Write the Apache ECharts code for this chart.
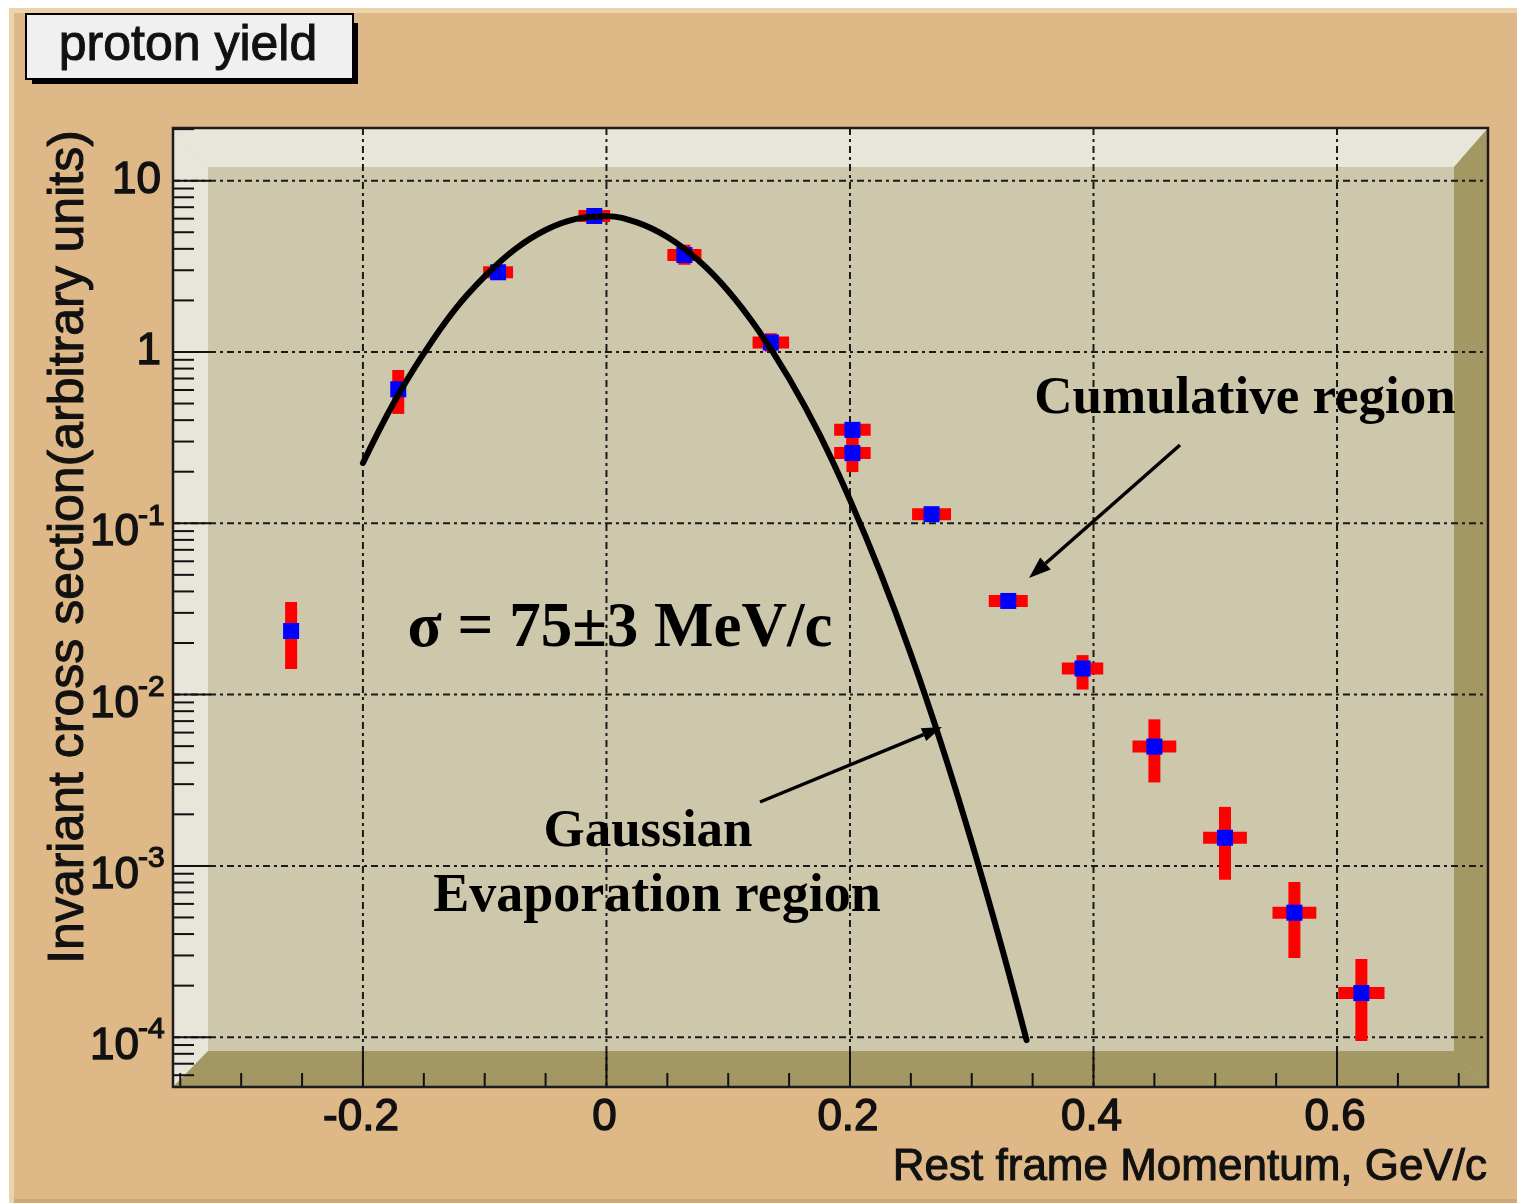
<!DOCTYPE html>
<html>
<head>
<meta charset="utf-8">
<script src="https://cdn.jsdelivr.net/npm/echarts@6/dist/echarts.min.js"></script>
<style>
  html, body { margin: 0; padding: 0; background: #ffffff; }
  #chart { width: 1517px; height: 1203px; }
</style>
</head>
<body>
<div id="chart"></div>
<script>
// Measured proton yield vs rest-frame momentum (GeV/c)
const momentum     = [-0.259, -0.171, -0.089, -0.010, 0.064, 0.135, 0.202, 0.202, 0.267, 0.330, 0.391, 0.450, 0.508, 0.565, 0.620];
const yieldValues  = [0.0235, 0.606, 2.92, 6.22, 3.68, 1.136, 0.351, 0.257, 0.113, 0.0352, 0.0142, 0.00497, 0.00146, 0.000533, 0.000181];
const momentumErr  = [0, 0, 0.0123, 0.013, 0.014, 0.015, 0.015, 0.015, 0.016, 0.016, 0.017, 0.018, 0.018, 0.018, 0.019];
const yieldErrLow  = [0.0094, 0.171, 0.25, 0.40, 0.45, 0.13, 0.114, 0.058, 0.009, 0.003, 0.0035, 0.0019, 0.00063, 0.000243, 0.000086];
const yieldErrHigh = [0.0112, 0.179, 0.27, 0.45, 0.55, 0.15, 0.034, 0.125, 0.010, 0.003, 0.0028, 0.0022, 0.00075, 0.000272, 0.000105];

// Gaussian fit through the evaporation region
const fitMomentum = [-0.2, -0.175, -0.15, -0.125, -0.1, -0.075, -0.05, -0.025, 0, 0.025, 0.05, 0.075, 0.1, 0.125, 0.15, 0.175, 0.2, 0.225, 0.25, 0.275, 0.3, 0.325, 0.345];
const fitYield    = [0.225, 0.50, 0.98, 1.75, 2.76, 3.98, 5.15, 5.98, 6.2, 5.71, 4.69, 3.45, 2.27, 1.33, 0.70, 0.33, 0.137, 0.0513, 0.0172, 0.00514, 0.00137, 0.000328, 0.0000962];

// Axis ticks and labels
const xMajorTicks = [-0.2, 0, 0.2, 0.4, 0.6];
const xTickLabels = ['-0.2', '0', '0.2', '0.4', '0.6'];
const xMinorTicks = [-0.35, -0.3, -0.25, -0.15, -0.1, -0.05, 0.05, 0.1, 0.15, 0.25, 0.3, 0.35, 0.45, 0.5, 0.55, 0.65, 0.7];
const yMajorTicks = [1e-4, 1e-3, 1e-2, 1e-1, 1, 10];
const yTickBase   = ['10', '10', '10', '10', '1', '10'];
const yTickExp    = ['-4', '-3', '-2', '-1', '', ''];

const X_MIN = -0.356, X_MAX = 0.724;
const Y_MIN = 5.12e-5, Y_MAX = 20.3;

// log-axis minor ticks at 2..9 x 10^k inside the axis range
const yMinorTicks = [];
for (let e = -5; e <= 1; e++) {
  for (let m = 2; m <= 9; m++) {
    const v = m * Math.pow(10, e);
    if (v > Y_MIN && v < Y_MAX) yMinorTicks.push(v);
  }
}

// frame geometry (ROOT style bevelled pad frame)
const G = { l: 173, t: 128, r: 1488, b: 1087 };
const BEV = { l: 35, t: 39, r: 34, b: 36 };

const SANS = '"Liberation Sans", Arial, Helvetica, sans-serif';
const SERIF = '"Liberation Serif", "Times New Roman", serif';
const INK = '#111111';

// sans text with a hairline outline for a Helvetica-medium look
function sansStyle(text, size, align, extra) {
  return Object.assign({
    text, font: size + 'px ' + SANS, fill: INK, stroke: INK, lineWidth: 1,
    align: align, verticalAlign: 'middle'
  }, extra || {});
}

function arrow(x1, y1, x2, y2, len, half, width) {
  const a = Math.atan2(y2 - y1, x2 - x1);
  const bx = x2 - len * Math.cos(a), by = y2 - len * Math.sin(a);
  const nx = -Math.sin(a) * half, ny = Math.cos(a) * half;
  return [
    { type: 'line', z: 60, shape: { x1, y1, x2: bx, y2: by }, style: { stroke: '#000', lineWidth: width } },
    { type: 'polygon', z: 60, shape: { points: [[x2, y2], [bx + nx, by + ny], [bx - nx, by - ny]] }, style: { fill: '#000' } }
  ];
}

const chart = echarts.init(document.getElementById('chart'), null, { renderer: 'canvas' });

const gridDash = [7, 4, 3, 4];

const option = {
  animation: false,
  backgroundColor: '#ffffff',
  grid: { left: G.l, top: G.t, width: G.r - G.l, height: G.b - G.t, containLabel: false },
  xAxis: {
    type: 'value', min: X_MIN, max: X_MAX,
    axisLine: { show: false }, axisTick: { show: false }, axisLabel: { show: false }, splitLine: { show: false }
  },
  yAxis: {
    type: 'log', logBase: 10, min: Y_MIN, max: Y_MAX,
    axisLine: { show: false }, axisTick: { show: false }, axisLabel: { show: false }, splitLine: { show: false }
  },
  graphic: [
    // pad background with light/dark edges
    { type: 'rect', z: 0, shape: { x: 9, y: 8, width: 1508, height: 1195 }, style: { fill: '#DEB887' } },
    { type: 'polygon', z: 0, shape: { points: [[9, 8], [1517, 8], [1517, 13], [14, 13], [14, 1203], [9, 1203]] }, style: { fill: '#EBD3AE' } },
    { type: 'rect', z: 0, shape: { x: 14, y: 1199, width: 1503, height: 4 }, style: { fill: '#CFA872' } },
    // frame bevel
    { type: 'rect', z: 1, shape: { x: G.l, y: G.t, width: G.r - G.l, height: G.b - G.t }, style: { fill: '#CDC7AB' } },
    { type: 'polygon', z: 1, shape: { points: [[G.l, G.t], [G.r, G.t], [G.r - BEV.r, G.t + BEV.t], [G.l + BEV.l, G.t + BEV.t]] }, style: { fill: '#E8E6DB' } },
    { type: 'polygon', z: 1, shape: { points: [[G.l, G.t], [G.l + BEV.l, G.t + BEV.t], [G.l + BEV.l, G.b - BEV.b], [G.l, G.b]] }, style: { fill: '#E8E6DB' } },
    { type: 'polygon', z: 1, shape: { points: [[G.r, G.t], [G.r, G.b], [G.r - BEV.r, G.b - BEV.b], [G.r - BEV.r, G.t + BEV.t]] }, style: { fill: '#A39763' } },
    { type: 'polygon', z: 1, shape: { points: [[G.l, G.b], [G.r, G.b], [G.r - BEV.r, G.b - BEV.b], [G.l + BEV.l, G.b - BEV.b]] }, style: { fill: '#A39763' } },
    // frame outline
    { type: 'rect', z: 50, shape: { x: G.l, y: G.t, width: G.r - G.l, height: G.b - G.t }, style: { fill: null, stroke: '#1c1c1c', lineWidth: 2.5 } },
    // title box
    { type: 'rect', z: 70, shape: { x: 32, y: 23, width: 326, height: 61 }, style: { fill: '#000' } },
    { type: 'rect', z: 71, shape: { x: 26, y: 14, width: 327, height: 65 }, style: { fill: '#F0F0F0', stroke: '#000', lineWidth: 2 } },
    { type: 'text', z: 72, x: 188, y: 46, style: sansStyle('proton yield', 50, 'center') },
    // axis titles
    { type: 'text', z: 72, x: 1487, y: 1168, style: sansStyle('Rest frame Momentum, GeV/c', 44, 'right') },
    { type: 'text', z: 72, x: 69, y: 547, rotation: Math.PI / 2, style: sansStyle('Invariant cross section(arbitrary units)', 50, 'center') },
    // annotations
    { type: 'text', z: 72, x: 1245, y: 399, style: { text: 'Cumulative region', font: 'bold 53px ' + SERIF, fill: '#000', align: 'center', verticalAlign: 'middle' } },
    { type: 'text', z: 72, x: 620, y: 630, style: { text: 'σ = 75±3 MeV/c', font: 'bold 63px ' + SERIF, fill: '#000', align: 'center', verticalAlign: 'middle' } },
    { type: 'text', z: 72, x: 648, y: 832, style: { text: 'Gaussian', font: 'bold 53px ' + SERIF, fill: '#000', align: 'center', verticalAlign: 'middle' } },
    { type: 'text', z: 72, x: 657, y: 897, style: { text: 'Evaporation region', font: 'bold 54px ' + SERIF, fill: '#000', align: 'center', verticalAlign: 'middle' } },
    ...arrow(1180, 445, 1029, 578, 22, 8, 3.5),
    ...arrow(760, 802, 942, 727, 20, 7, 3.5)
  ],
  series: [
    // dotted grid
    {
      type: 'custom', z: 3, silent: true,
      data: xMajorTicks.map(v => [v, 1]),
      renderItem: (params, api) => {
        const top = api.coord([api.value(0), Y_MAX]);
        const bot = api.coord([api.value(0), Y_MIN]);
        return { type: 'line', shape: { x1: top[0], y1: top[1], x2: bot[0], y2: bot[1] }, style: { stroke: '#1a1a1a', lineWidth: 2, lineDash: gridDash } };
      }
    },
    {
      type: 'custom', z: 3, silent: true,
      data: yMajorTicks.map(v => [0, v]),
      renderItem: (params, api) => {
        const a = api.coord([X_MIN, api.value(1)]);
        const b = api.coord([X_MAX, api.value(1)]);
        return { type: 'line', shape: { x1: a[0], y1: a[1], x2: b[0], y2: b[1] }, style: { stroke: '#1a1a1a', lineWidth: 2, lineDash: gridDash } };
      }
    },
    // axis ticks
    {
      type: 'custom', z: 4, silent: true,
      data: xMajorTicks.map(v => [v, Y_MIN, 35]).concat(xMinorTicks.map(v => [v, Y_MIN, 14])),
      renderItem: (params, api) => {
        const p = api.coord([api.value(0), Y_MIN]);
        return { type: 'line', shape: { x1: p[0], y1: p[1], x2: p[0], y2: p[1] - api.value(2) }, style: { stroke: '#111', lineWidth: 2 } };
      }
    },
    {
      type: 'custom', z: 4, silent: true,
      data: yMajorTicks.map(v => [X_MIN, v, 38]).concat(yMinorTicks.map(v => [X_MIN, v, 21])),
      renderItem: (params, api) => {
        const p = api.coord([X_MIN, api.value(1)]);
        return { type: 'line', shape: { x1: p[0], y1: p[1], x2: p[0] + api.value(2), y2: p[1] }, style: { stroke: '#111', lineWidth: 2 } };
      }
    },
    // tick labels
    {
      type: 'custom', z: 4, silent: true,
      data: xMajorTicks.map(v => [v, Y_MIN]),
      renderItem: (params, api) => {
        const p = api.coord([api.value(0), Y_MIN]);
        return { type: 'text', x: p[0] - 2, y: p[1] + 31, style: sansStyle(xTickLabels[params.dataIndex], 44, 'center', { lineWidth: 1.4 }) };
      }
    },
    {
      type: 'custom', z: 4, silent: true,
      data: yMajorTicks.map(v => [X_MIN, v]),
      renderItem: (params, api) => {
        const p = api.coord([X_MIN, api.value(1)]);
        const i = params.dataIndex;
        if (!yTickExp[i]) {
          return { type: 'text', x: p[0] - 12, y: p[1], style: sansStyle(yTickBase[i], 44, 'right', { lineWidth: 1.4 }) };
        }
        return {
          type: 'group', children: [
            { type: 'text', x: p[0] - 34, y: p[1] + 10, style: sansStyle(yTickBase[i], 44, 'right', { lineWidth: 1.4 }) },
            { type: 'text', x: p[0] - 35, y: p[1] - 7, style: sansStyle(yTickExp[i], 30, 'left', { lineWidth: 1.2 }) }
          ]
        };
      }
    },
    // error bars
    {
      type: 'custom', z: 10, silent: true,
      dimensions: ['p', 'y', 'ep', 'elo', 'ehi'],
      encode: { x: 0, y: 1 },
      data: momentum.map((p, i) => [p, yieldValues[i], momentumErr[i], yieldErrLow[i], yieldErrHigh[i]]),
      renderItem: (params, api) => {
        const x = api.value(0), y = api.value(1), ex = api.value(2), lo = api.value(3), hi = api.value(4);
        const c = api.coord([x, y]);
        const t = 12;
        const children = [];
        if (ex > 0) {
          const l = api.coord([x - ex, y])[0], r = api.coord([x + ex, y])[0];
          children.push({ type: 'rect', shape: { x: l, y: c[1] - t / 2, width: r - l, height: t }, style: { fill: '#ff0000' } });
        }
        const top = api.coord([x, y + hi])[1], bot = api.coord([x, y - lo])[1];
        children.push({ type: 'rect', shape: { x: c[0] - t / 2, y: top, width: t, height: bot - top }, style: { fill: '#ff0000' } });
        return { type: 'group', children };
      }
    },
    // markers
    {
      type: 'scatter', z: 11, silent: true,
      symbol: 'rect', symbolSize: 16,
      itemStyle: { color: '#0000ff', opacity: 1 },
      data: momentum.map((p, i) => [p, yieldValues[i]])
    },
    // Gaussian fit
    {
      type: 'line', z: 12, silent: true,
      smooth: 0.4, showSymbol: false, symbol: 'none',
      lineStyle: { color: '#000', width: 6, cap: 'round' },
      data: fitMomentum.map((p, i) => [p, fitYield[i]])
    }
  ]
};

chart.setOption(option);
</script>
</body>
</html>
